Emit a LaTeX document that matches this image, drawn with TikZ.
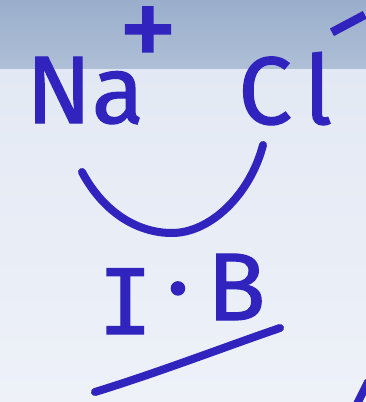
\documentclass[tikz,border=0pt]{standalone}
\usepackage{fontspec}
\setmainfont[FakeBold=1.2]{Fira Sans}
\newfontfamily\monohand[FakeBold=1.2]{DejaVu Sans Mono}
\definecolor{ink}{HTML}{3124BE}
\definecolor{bandtop}{HTML}{9AAECC}
\definecolor{bandlow}{HTML}{AEBFD6}
\definecolor{board}{HTML}{E3E9F4}
\definecolor{boardlow}{HTML}{EEF1F8}

\begin{document}
\begin{tikzpicture}[
  x=1pt, y=-1pt,
  hand/.style  = {text=ink, inner sep=0pt, font=\fontsize{96}{96}\selectfont},
  sup/.style   = {text=ink, inner sep=0pt, font=\fontsize{96}{96}\selectfont},
  serif/.style = {text=ink, inner sep=0pt, font=\monohand\fontsize{90}{90}\selectfont},
  pen/.style   = {draw=ink, line width=8pt, line cap=round},
]
\useasboundingbox (0,0) rectangle (366,402);
\shade[top color=board, bottom color=boardlow] (0,68) rectangle (366,402);
\shade[top color=bandtop, bottom color=bandlow] (0,0) rectangle (366,68);

% ions
\node[hand, anchor=base west] (na) at (26,123) {Na};
\node[sup, scale=1.25] (plus) at (148,38) {+};
\node[hand, anchor=base west] (cl) at (238,124) {C\kern12pt l};
\node[sup, rotate=28] (minus) at (355,36) {−};

% bond arc
\coordinate (arcL) at (82,172);
\coordinate (arcR) at (263,145);
\draw[pen] (arcL) .. controls (105,215) and (140,233) .. (172,233)
  .. controls (210,233) and (250,195) .. (arcR);

% ionic bond
\node[serif, anchor=base west] (ionI) at (98,334) {I};
\node[hand] (dot) at (178,300) {·};
\node[hand, anchor=base west] (bondB) at (207,320) {B};
\coordinate (ulL) at (95,392);
\coordinate (ulR) at (280,328);
\draw[pen] (ulL) .. controls (160,372) and (230,345) .. (ulR);

\coordinate (edgeA) at (357,404);
\coordinate (edgeB) at (368,382);
\draw[pen] (edgeA) -- (edgeB);
\end{tikzpicture}
\end{document}
